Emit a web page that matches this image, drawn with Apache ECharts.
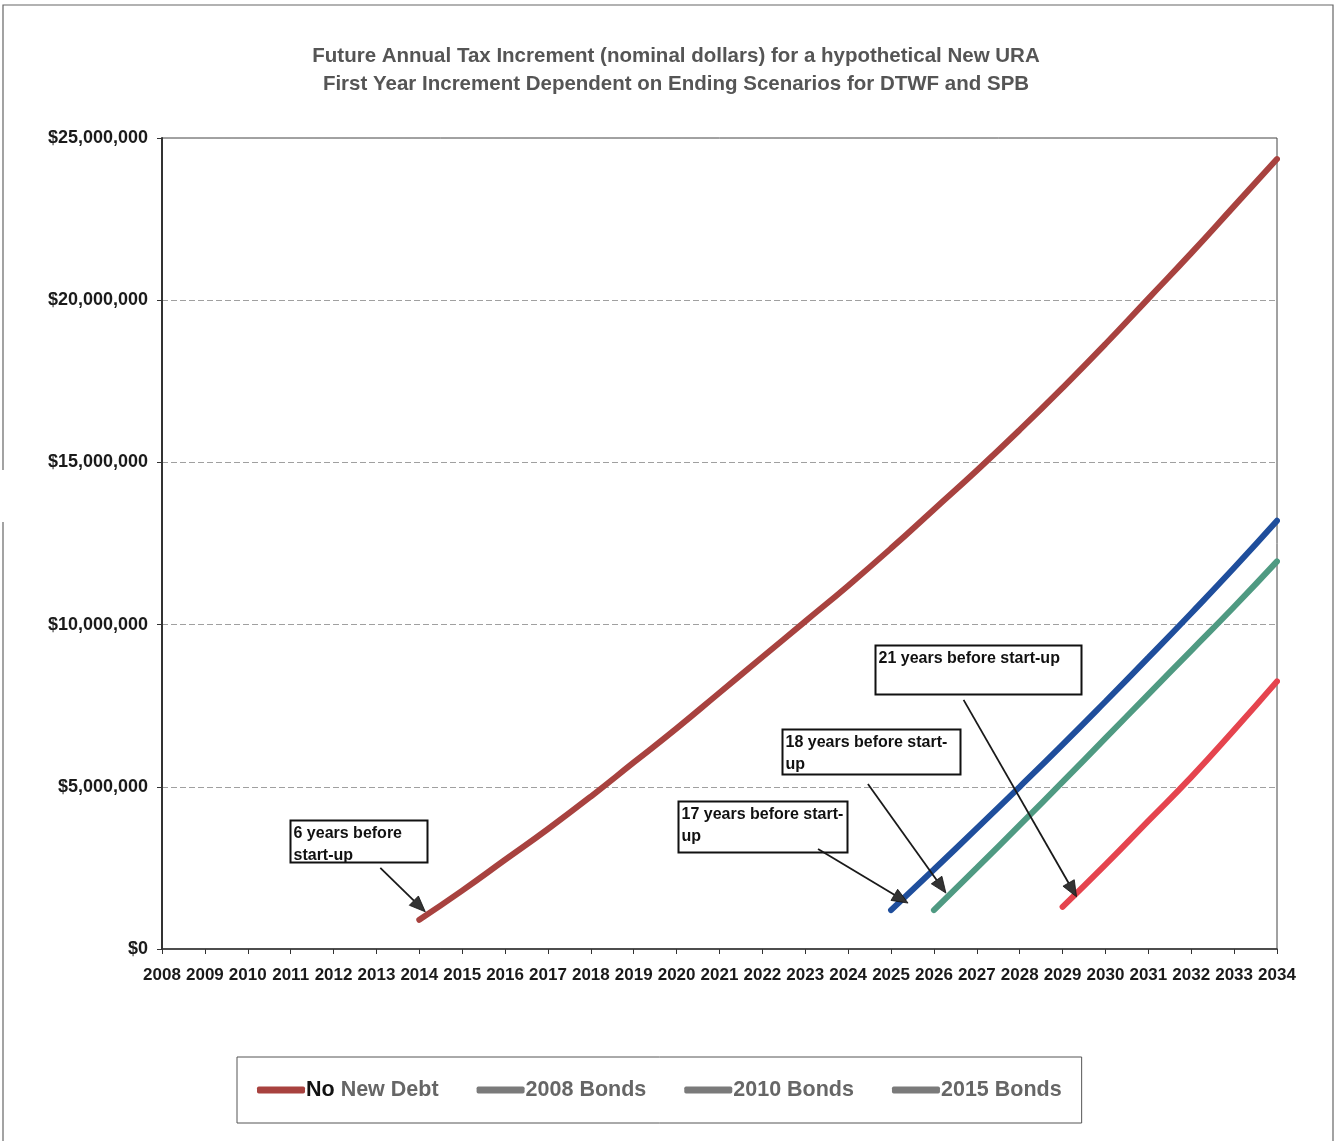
<!DOCTYPE html>
<html>
<head>
<meta charset="utf-8">
<title>Future Annual Tax Increment</title>
<script src="https://cdn.jsdelivr.net/npm/echarts@6/dist/echarts.min.js"></script>
<style>
  html, body { margin: 0; padding: 0; background: #ffffff; }
  #chart { width: 1336px; height: 1141px; }
</style>
</head>
<body>
<div id="chart"></div>
<script>
// Years on the horizontal axis
const years = ['2008','2009','2010','2011','2012','2013','2014','2015','2016','2017','2018','2019','2020',
               '2021','2022','2023','2024','2025','2026','2027','2028','2029','2030','2031','2032','2033','2034'];

// Annual tax increment in dollars (null = district not yet started)
const noNewDebt = [null, null, null, null, null, null,
  900000, 1800000, 2750000, 3700000, 4700000, 5750000, 6800000, 7900000, 9000000, 10100000,
  11200000, 12350000, 13550000, 14750000, 16000000, 17300000, 18650000, 20050000, 21450000, 22900000, 24350000];
const bonds2008 = [null, null, null, null, null, null, null, null, null, null, null, null, null, null, null, null, null,
  1200000, 2450000, 3720000, 5000000, 6300000, 7630000, 8980000, 10350000, 11750000, 13200000];
const bonds2010 = [null, null, null, null, null, null, null, null, null, null, null, null, null, null, null, null, null, null,
  1200000, 2500000, 3820000, 5150000, 6500000, 7850000, 9200000, 10550000, 11950000];
const bonds2015 = [null, null, null, null, null, null, null, null, null, null, null, null, null, null, null, null, null, null, null, null, null,
  1300000, 2600000, 3950000, 5300000, 6750000, 8250000];

// Y axis tick values
const yTicks = [0, 5000000, 10000000, 15000000, 20000000, 25000000];

const seriesNames = ['No New Debt', '2008 Bonds', '2010 Bonds', '2015 Bonds'];
const seriesColors = ['#a8423f', '#1f4e9c', '#4f9a82', '#e5444e'];
const seriesData = [noNewDebt, bonds2008, bonds2010, bonds2015];

// Callout notes pointing at each series' first year
const notes = [
  { lines: ['6 years before', 'start-up'], series: 0, year: '2014' },
  { lines: ['17 years before start-', 'up'], series: 1, year: '2025' },
  { lines: ['18 years before start-', 'up'], series: 2, year: '2026' },
  { lines: ['21 years before start-up'], series: 3, year: '2029' }
];
// box offset / size and arrow tail / tip offsets relative to the pointed-at point
const noteLayout = [
  { box: [-129, -100, 137, 42], tail: [-39, -52], tip: [6, -8] },
  { box: [-213, -109, 169, 51], tail: [-73, -61], tip: [17, -7] },
  { box: [-152, -181, 178, 45], tail: [-66, -126], tip: [12, -17] },
  { box: [-188, -262, 206, 49], tail: [-99, -207], tip: [14, -10] }
];

const FONT = '"Liberation Sans", Arial, sans-serif';

const chart = echarts.init(document.getElementById('chart'), null, { renderer: 'canvas' });

const option = {
  backgroundColor: '#ffffff',
  animation: false,
  title: {
    text: 'Future Annual Tax Increment (nominal dollars) for a hypothetical New URA\nFirst Year Increment Dependent on Ending Scenarios for DTWF and SPB',
    left: 671,
    textAlign: 'center',
    top: 37,
    textStyle: {
      fontFamily: FONT, fontSize: 20.5, fontWeight: 'bold', color: '#555555', lineHeight: 28
    }
  },
  grid: {
    left: 162, right: 59, top: 138, bottom: 192,
    show: true, borderColor: '#444', borderWidth: 1
  },
  legend: {
    left: 237, top: 1057,
    padding: [22, 20, 22, 20],
    borderColor: '#555', borderWidth: 1,
    itemWidth: 48, itemHeight: 7, itemGap: 38,
    icon: 'roundRect',
    data: seriesNames.map((n, i) => ({
      name: n,
      itemStyle: { color: i === 0 ? '#a8423f' : '#7a7a7a' }
    })),
    formatter: function (name) {
      if (name === 'No New Debt') return '{k|No}{g| New Debt}';
      return '{g|' + name + '}';
    },
    textStyle: {
      fontFamily: FONT, fontSize: 21.5, fontWeight: 'bold', color: '#666',
      padding: [0, 0, 0, -4],
      rich: {
        k: { fontFamily: FONT, fontSize: 21.5, fontWeight: 'bold', color: '#111' },
        g: { fontFamily: FONT, fontSize: 21.5, fontWeight: 'bold', color: '#666' }
      }
    }
  },
  xAxis: {
    type: 'category',
    data: years,
    boundaryGap: false,
    axisLine: { lineStyle: { color: '#333', width: 1.5 } },
    axisTick: { show: true, length: 5, lineStyle: { color: '#333' } },
    axisLabel: {
      interval: 0, margin: 18,
      fontFamily: FONT, fontSize: 17, fontWeight: 'bold', color: '#1a1a1a'
    },
    splitLine: { show: false }
  },
  yAxis: {
    type: 'value',
    min: yTicks[0], max: yTicks[yTicks.length - 1], interval: yTicks[1] - yTicks[0],
    axisLine: { show: true, lineStyle: { color: '#333', width: 2 } },
    axisTick: { show: true, length: 5, lineStyle: { color: '#333' } },
    axisLabel: {
      margin: 14,
      fontFamily: FONT, fontSize: 18, fontWeight: 'bold', color: '#1a1a1a',
      formatter: v => '$' + v.toLocaleString('en-US')
    },
    splitLine: { show: true, lineStyle: { color: '#a0a0a0', type: [6, 3], width: 1 } }
  },
  series: seriesNames.map((n, i) => ({
    name: n,
    type: 'line',
    data: seriesData[i],
    smooth: 0.5,
    showSymbol: false,
    connectNulls: false,
    color: seriesColors[i],
    lineStyle: { width: 6, color: seriesColors[i], cap: 'round' },
    z: 3
  }))
};

chart.setOption(option);

// Frame around the whole figure plus the callout notes
function buildGraphics() {
  const els = [
    { type: 'polyline', silent: true, shape: { points: [[3, 470], [3, 5], [1333, 5], [1333, 1141]] },
      style: { stroke: '#666', lineWidth: 1.2, fill: null } },
    { type: 'line', silent: true, shape: { x1: 3, y1: 522, x2: 3, y2: 1141 },
      style: { stroke: '#666', lineWidth: 1.2 } }
  ];
  notes.forEach((note, i) => {
    const p = chart.convertToPixel({ seriesIndex: note.series }, [note.year, seriesData[note.series][years.indexOf(note.year)]]);
    const L = noteLayout[i];
    const bx = Math.round(p[0] + L.box[0]) + 0.5, by = Math.round(p[1] + L.box[1]) + 0.5;
    els.push({
      type: 'rect', silent: true, z: 10,
      shape: { x: bx, y: by, width: L.box[2], height: L.box[3] },
      style: { fill: '#ffffff', stroke: '#111', lineWidth: 2 }
    });
    els.push({
      type: 'text', silent: true, z: 11,
      x: bx + 3, y: by + 2,
      style: {
        text: note.lines.join('\n'),
        fontFamily: FONT, fontSize: 16, fontWeight: 'bold', fill: '#111', lineHeight: 22
      }
    });
    const tx = p[0] + L.tail[0], ty = p[1] + L.tail[1];
    const hx = p[0] + L.tip[0], hy = p[1] + L.tip[1];
    const ang = Math.atan2(hy - ty, hx - tx);
    const hl = 16, hw = 6.5;
    const bxh = hx - hl * Math.cos(ang), byh = hy - hl * Math.sin(ang);
    els.push({
      type: 'line', silent: true, z: 10,
      shape: { x1: tx, y1: ty, x2: bxh, y2: byh },
      style: { stroke: '#1a1a1a', lineWidth: 1.8 }
    });
    els.push({
      type: 'polygon', silent: true, z: 10,
      shape: { points: [
        [hx, hy],
        [bxh + hw * Math.sin(ang), byh - hw * Math.cos(ang)],
        [bxh - hw * Math.sin(ang), byh + hw * Math.cos(ang)]
      ] },
      style: { fill: '#333', stroke: '#111', lineWidth: 0.8 }
    });
  });
  chart.setOption({ graphic: { elements: els } });
}
buildGraphics();
</script>
</body>
</html>
